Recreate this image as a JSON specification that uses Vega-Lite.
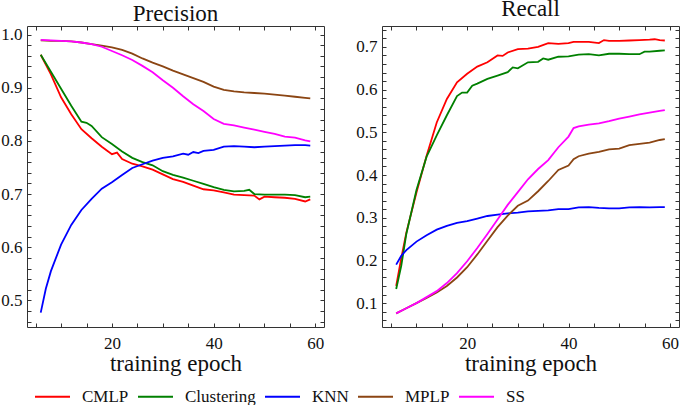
{
"$schema": "https://vega.github.io/schema/vega-lite/v6.json",
"padding": {"left": 0, "top": -3, "right": 2, "bottom": 0},
"background": "white",
"config": {
 "font": "Liberation Serif",
 "view": {"stroke": "#333", "strokeWidth": 1},
 "concat": {"spacing": 30},
 "axis": {"domain": false, "grid": false, "labelFont": "Liberation Serif", "labelFontSize": 17, "labelColor": "#111", "titleFont": "Liberation Serif", "titleFontSize": 23, "titleFontWeight": "normal", "titleColor": "#111", "labelOverlap": false, "labelFlush": false}
},
"datasets": {"d": [
{"m":"Precision","s":"CMLP","e":6,"v":0.962},{"m":"Precision","s":"CMLP","e":8,"v":0.925},{"m":"Precision","s":"CMLP","e":10,"v":0.882},{"m":"Precision","s":"CMLP","e":12,"v":0.850},{"m":"Precision","s":"CMLP","e":14,"v":0.822},{"m":"Precision","s":"CMLP","e":16,"v":0.805},{"m":"Precision","s":"CMLP","e":18,"v":0.789},{"m":"Precision","s":"CMLP","e":20,"v":0.775},{"m":"Precision","s":"CMLP","e":21,"v":0.778},{"m":"Precision","s":"CMLP","e":22,"v":0.766},{"m":"Precision","s":"CMLP","e":24,"v":0.757},{"m":"Precision","s":"CMLP","e":26,"v":0.752},{"m":"Precision","s":"CMLP","e":28,"v":0.746},{"m":"Precision","s":"CMLP","e":30,"v":0.737},{"m":"Precision","s":"CMLP","e":32,"v":0.728},{"m":"Precision","s":"CMLP","e":34,"v":0.723},{"m":"Precision","s":"CMLP","e":36,"v":0.716},{"m":"Precision","s":"CMLP","e":38,"v":0.709},{"m":"Precision","s":"CMLP","e":40,"v":0.707},{"m":"Precision","s":"CMLP","e":42,"v":0.703},{"m":"Precision","s":"CMLP","e":44,"v":0.699},{"m":"Precision","s":"CMLP","e":46,"v":0.698},{"m":"Precision","s":"CMLP","e":48,"v":0.697},{"m":"Precision","s":"CMLP","e":49,"v":0.690},{"m":"Precision","s":"CMLP","e":50,"v":0.695},{"m":"Precision","s":"CMLP","e":52,"v":0.694},{"m":"Precision","s":"CMLP","e":54,"v":0.693},{"m":"Precision","s":"CMLP","e":56,"v":0.691},{"m":"Precision","s":"CMLP","e":58,"v":0.686},{"m":"Precision","s":"CMLP","e":59,"v":0.690},
{"m":"Precision","s":"Clustering","e":6,"v":0.962},{"m":"Precision","s":"Clustering","e":8,"v":0.930},{"m":"Precision","s":"Clustering","e":10,"v":0.898},{"m":"Precision","s":"Clustering","e":12,"v":0.866},{"m":"Precision","s":"Clustering","e":14,"v":0.836},{"m":"Precision","s":"Clustering","e":15,"v":0.834},{"m":"Precision","s":"Clustering","e":16,"v":0.828},{"m":"Precision","s":"Clustering","e":18,"v":0.807},{"m":"Precision","s":"Clustering","e":20,"v":0.794},{"m":"Precision","s":"Clustering","e":22,"v":0.780},{"m":"Precision","s":"Clustering","e":24,"v":0.768},{"m":"Precision","s":"Clustering","e":26,"v":0.760},{"m":"Precision","s":"Clustering","e":28,"v":0.754},{"m":"Precision","s":"Clustering","e":30,"v":0.743},{"m":"Precision","s":"Clustering","e":32,"v":0.736},{"m":"Precision","s":"Clustering","e":34,"v":0.731},{"m":"Precision","s":"Clustering","e":36,"v":0.725},{"m":"Precision","s":"Clustering","e":38,"v":0.719},{"m":"Precision","s":"Clustering","e":40,"v":0.713},{"m":"Precision","s":"Clustering","e":42,"v":0.708},{"m":"Precision","s":"Clustering","e":44,"v":0.705},{"m":"Precision","s":"Clustering","e":46,"v":0.706},{"m":"Precision","s":"Clustering","e":47,"v":0.708},{"m":"Precision","s":"Clustering","e":48,"v":0.700},{"m":"Precision","s":"Clustering","e":50,"v":0.699},{"m":"Precision","s":"Clustering","e":52,"v":0.699},{"m":"Precision","s":"Clustering","e":54,"v":0.699},{"m":"Precision","s":"Clustering","e":56,"v":0.698},{"m":"Precision","s":"Clustering","e":58,"v":0.694},{"m":"Precision","s":"Clustering","e":59,"v":0.695},
{"m":"Precision","s":"KNN","e":6,"v":0.477},{"m":"Precision","s":"KNN","e":7,"v":0.522},{"m":"Precision","s":"KNN","e":8,"v":0.555},{"m":"Precision","s":"KNN","e":10,"v":0.605},{"m":"Precision","s":"KNN","e":12,"v":0.642},{"m":"Precision","s":"KNN","e":14,"v":0.670},{"m":"Precision","s":"KNN","e":16,"v":0.691},{"m":"Precision","s":"KNN","e":18,"v":0.710},{"m":"Precision","s":"KNN","e":20,"v":0.722},{"m":"Precision","s":"KNN","e":22,"v":0.736},{"m":"Precision","s":"KNN","e":24,"v":0.749},{"m":"Precision","s":"KNN","e":26,"v":0.756},{"m":"Precision","s":"KNN","e":28,"v":0.763},{"m":"Precision","s":"KNN","e":30,"v":0.768},{"m":"Precision","s":"KNN","e":32,"v":0.771},{"m":"Precision","s":"KNN","e":34,"v":0.776},{"m":"Precision","s":"KNN","e":35,"v":0.774},{"m":"Precision","s":"KNN","e":36,"v":0.779},{"m":"Precision","s":"KNN","e":37,"v":0.777},{"m":"Precision","s":"KNN","e":38,"v":0.781},{"m":"Precision","s":"KNN","e":40,"v":0.783},{"m":"Precision","s":"KNN","e":42,"v":0.789},{"m":"Precision","s":"KNN","e":44,"v":0.790},{"m":"Precision","s":"KNN","e":46,"v":0.789},{"m":"Precision","s":"KNN","e":48,"v":0.788},{"m":"Precision","s":"KNN","e":50,"v":0.789},{"m":"Precision","s":"KNN","e":52,"v":0.790},{"m":"Precision","s":"KNN","e":54,"v":0.791},{"m":"Precision","s":"KNN","e":56,"v":0.792},{"m":"Precision","s":"KNN","e":58,"v":0.792},{"m":"Precision","s":"KNN","e":59,"v":0.791},
{"m":"Precision","s":"MPLP","e":6,"v":0.989},{"m":"Precision","s":"MPLP","e":8,"v":0.988},{"m":"Precision","s":"MPLP","e":10,"v":0.988},{"m":"Precision","s":"MPLP","e":12,"v":0.987},{"m":"Precision","s":"MPLP","e":14,"v":0.985},{"m":"Precision","s":"MPLP","e":16,"v":0.982},{"m":"Precision","s":"MPLP","e":18,"v":0.979},{"m":"Precision","s":"MPLP","e":20,"v":0.976},{"m":"Precision","s":"MPLP","e":22,"v":0.971},{"m":"Precision","s":"MPLP","e":24,"v":0.964},{"m":"Precision","s":"MPLP","e":26,"v":0.955},{"m":"Precision","s":"MPLP","e":28,"v":0.947},{"m":"Precision","s":"MPLP","e":30,"v":0.940},{"m":"Precision","s":"MPLP","e":32,"v":0.932},{"m":"Precision","s":"MPLP","e":34,"v":0.925},{"m":"Precision","s":"MPLP","e":36,"v":0.918},{"m":"Precision","s":"MPLP","e":38,"v":0.911},{"m":"Precision","s":"MPLP","e":40,"v":0.902},{"m":"Precision","s":"MPLP","e":42,"v":0.896},{"m":"Precision","s":"MPLP","e":44,"v":0.893},{"m":"Precision","s":"MPLP","e":46,"v":0.891},{"m":"Precision","s":"MPLP","e":48,"v":0.890},{"m":"Precision","s":"MPLP","e":50,"v":0.889},{"m":"Precision","s":"MPLP","e":52,"v":0.887},{"m":"Precision","s":"MPLP","e":54,"v":0.885},{"m":"Precision","s":"MPLP","e":56,"v":0.883},{"m":"Precision","s":"MPLP","e":58,"v":0.881},{"m":"Precision","s":"MPLP","e":59,"v":0.880},
{"m":"Precision","s":"SS","e":6,"v":0.990},{"m":"Precision","s":"SS","e":8,"v":0.989},{"m":"Precision","s":"SS","e":10,"v":0.988},{"m":"Precision","s":"SS","e":12,"v":0.987},{"m":"Precision","s":"SS","e":14,"v":0.985},{"m":"Precision","s":"SS","e":16,"v":0.982},{"m":"Precision","s":"SS","e":18,"v":0.977},{"m":"Precision","s":"SS","e":20,"v":0.969},{"m":"Precision","s":"SS","e":22,"v":0.961},{"m":"Precision","s":"SS","e":24,"v":0.952},{"m":"Precision","s":"SS","e":26,"v":0.941},{"m":"Precision","s":"SS","e":28,"v":0.929},{"m":"Precision","s":"SS","e":30,"v":0.914},{"m":"Precision","s":"SS","e":32,"v":0.900},{"m":"Precision","s":"SS","e":34,"v":0.884},{"m":"Precision","s":"SS","e":36,"v":0.869},{"m":"Precision","s":"SS","e":38,"v":0.856},{"m":"Precision","s":"SS","e":40,"v":0.841},{"m":"Precision","s":"SS","e":42,"v":0.832},{"m":"Precision","s":"SS","e":44,"v":0.829},{"m":"Precision","s":"SS","e":46,"v":0.825},{"m":"Precision","s":"SS","e":48,"v":0.821},{"m":"Precision","s":"SS","e":50,"v":0.817},{"m":"Precision","s":"SS","e":52,"v":0.813},{"m":"Precision","s":"SS","e":54,"v":0.808},{"m":"Precision","s":"SS","e":56,"v":0.806},{"m":"Precision","s":"SS","e":58,"v":0.801},{"m":"Precision","s":"SS","e":59,"v":0.799},
{"m":"Recall","s":"CMLP","e":6,"v":0.140},{"m":"Recall","s":"CMLP","e":7,"v":0.205},{"m":"Recall","s":"CMLP","e":8,"v":0.265},{"m":"Recall","s":"CMLP","e":10,"v":0.359},{"m":"Recall","s":"CMLP","e":12,"v":0.445},{"m":"Recall","s":"CMLP","e":14,"v":0.523},{"m":"Recall","s":"CMLP","e":16,"v":0.578},{"m":"Recall","s":"CMLP","e":18,"v":0.617},{"m":"Recall","s":"CMLP","e":20,"v":0.637},{"m":"Recall","s":"CMLP","e":22,"v":0.654},{"m":"Recall","s":"CMLP","e":24,"v":0.664},{"m":"Recall","s":"CMLP","e":26,"v":0.680},{"m":"Recall","s":"CMLP","e":27,"v":0.679},{"m":"Recall","s":"CMLP","e":28,"v":0.687},{"m":"Recall","s":"CMLP","e":30,"v":0.695},{"m":"Recall","s":"CMLP","e":32,"v":0.696},{"m":"Recall","s":"CMLP","e":34,"v":0.700},{"m":"Recall","s":"CMLP","e":36,"v":0.709},{"m":"Recall","s":"CMLP","e":38,"v":0.707},{"m":"Recall","s":"CMLP","e":40,"v":0.709},{"m":"Recall","s":"CMLP","e":41,"v":0.712},{"m":"Recall","s":"CMLP","e":44,"v":0.712},{"m":"Recall","s":"CMLP","e":46,"v":0.709},{"m":"Recall","s":"CMLP","e":47,"v":0.716},{"m":"Recall","s":"CMLP","e":48,"v":0.714},{"m":"Recall","s":"CMLP","e":50,"v":0.714},{"m":"Recall","s":"CMLP","e":52,"v":0.715},{"m":"Recall","s":"CMLP","e":54,"v":0.716},{"m":"Recall","s":"CMLP","e":56,"v":0.717},{"m":"Recall","s":"CMLP","e":57,"v":0.718},{"m":"Recall","s":"CMLP","e":58,"v":0.716},{"m":"Recall","s":"CMLP","e":59,"v":0.715},
{"m":"Recall","s":"Clustering","e":6,"v":0.133},{"m":"Recall","s":"Clustering","e":7,"v":0.187},{"m":"Recall","s":"Clustering","e":8,"v":0.262},{"m":"Recall","s":"Clustering","e":10,"v":0.365},{"m":"Recall","s":"Clustering","e":12,"v":0.443},{"m":"Recall","s":"Clustering","e":14,"v":0.493},{"m":"Recall","s":"Clustering","e":16,"v":0.540},{"m":"Recall","s":"Clustering","e":18,"v":0.585},{"m":"Recall","s":"Clustering","e":19,"v":0.593},{"m":"Recall","s":"Clustering","e":20,"v":0.593},{"m":"Recall","s":"Clustering","e":21,"v":0.609},{"m":"Recall","s":"Clustering","e":22,"v":0.614},{"m":"Recall","s":"Clustering","e":24,"v":0.625},{"m":"Recall","s":"Clustering","e":26,"v":0.633},{"m":"Recall","s":"Clustering","e":28,"v":0.641},{"m":"Recall","s":"Clustering","e":29,"v":0.652},{"m":"Recall","s":"Clustering","e":30,"v":0.650},{"m":"Recall","s":"Clustering","e":32,"v":0.664},{"m":"Recall","s":"Clustering","e":34,"v":0.665},{"m":"Recall","s":"Clustering","e":35,"v":0.673},{"m":"Recall","s":"Clustering","e":36,"v":0.670},{"m":"Recall","s":"Clustering","e":38,"v":0.677},{"m":"Recall","s":"Clustering","e":40,"v":0.678},{"m":"Recall","s":"Clustering","e":42,"v":0.682},{"m":"Recall","s":"Clustering","e":44,"v":0.683},{"m":"Recall","s":"Clustering","e":46,"v":0.680},{"m":"Recall","s":"Clustering","e":48,"v":0.684},{"m":"Recall","s":"Clustering","e":50,"v":0.684},{"m":"Recall","s":"Clustering","e":52,"v":0.683},{"m":"Recall","s":"Clustering","e":54,"v":0.683},{"m":"Recall","s":"Clustering","e":55,"v":0.689},{"m":"Recall","s":"Clustering","e":56,"v":0.689},{"m":"Recall","s":"Clustering","e":58,"v":0.691},{"m":"Recall","s":"Clustering","e":59,"v":0.692},
{"m":"Recall","s":"KNN","e":6,"v":0.190},{"m":"Recall","s":"KNN","e":7,"v":0.211},{"m":"Recall","s":"KNN","e":8,"v":0.224},{"m":"Recall","s":"KNN","e":10,"v":0.244},{"m":"Recall","s":"KNN","e":12,"v":0.259},{"m":"Recall","s":"KNN","e":14,"v":0.272},{"m":"Recall","s":"KNN","e":16,"v":0.281},{"m":"Recall","s":"KNN","e":18,"v":0.288},{"m":"Recall","s":"KNN","e":20,"v":0.292},{"m":"Recall","s":"KNN","e":22,"v":0.298},{"m":"Recall","s":"KNN","e":24,"v":0.304},{"m":"Recall","s":"KNN","e":26,"v":0.307},{"m":"Recall","s":"KNN","e":28,"v":0.310},{"m":"Recall","s":"KNN","e":30,"v":0.312},{"m":"Recall","s":"KNN","e":32,"v":0.315},{"m":"Recall","s":"KNN","e":34,"v":0.316},{"m":"Recall","s":"KNN","e":36,"v":0.317},{"m":"Recall","s":"KNN","e":38,"v":0.320},{"m":"Recall","s":"KNN","e":40,"v":0.320},{"m":"Recall","s":"KNN","e":42,"v":0.324},{"m":"Recall","s":"KNN","e":44,"v":0.325},{"m":"Recall","s":"KNN","e":46,"v":0.323},{"m":"Recall","s":"KNN","e":48,"v":0.322},{"m":"Recall","s":"KNN","e":50,"v":0.322},{"m":"Recall","s":"KNN","e":52,"v":0.324},{"m":"Recall","s":"KNN","e":54,"v":0.325},{"m":"Recall","s":"KNN","e":56,"v":0.324},{"m":"Recall","s":"KNN","e":58,"v":0.325},{"m":"Recall","s":"KNN","e":59,"v":0.325},
{"m":"Recall","s":"MPLP","e":6,"v":0.076},{"m":"Recall","s":"MPLP","e":8,"v":0.088},{"m":"Recall","s":"MPLP","e":10,"v":0.100},{"m":"Recall","s":"MPLP","e":12,"v":0.112},{"m":"Recall","s":"MPLP","e":14,"v":0.125},{"m":"Recall","s":"MPLP","e":16,"v":0.140},{"m":"Recall","s":"MPLP","e":18,"v":0.160},{"m":"Recall","s":"MPLP","e":20,"v":0.184},{"m":"Recall","s":"MPLP","e":22,"v":0.214},{"m":"Recall","s":"MPLP","e":24,"v":0.246},{"m":"Recall","s":"MPLP","e":26,"v":0.278},{"m":"Recall","s":"MPLP","e":28,"v":0.305},{"m":"Recall","s":"MPLP","e":30,"v":0.328},{"m":"Recall","s":"MPLP","e":32,"v":0.340},{"m":"Recall","s":"MPLP","e":34,"v":0.362},{"m":"Recall","s":"MPLP","e":36,"v":0.386},{"m":"Recall","s":"MPLP","e":38,"v":0.412},{"m":"Recall","s":"MPLP","e":40,"v":0.422},{"m":"Recall","s":"MPLP","e":41,"v":0.437},{"m":"Recall","s":"MPLP","e":42,"v":0.444},{"m":"Recall","s":"MPLP","e":44,"v":0.450},{"m":"Recall","s":"MPLP","e":46,"v":0.454},{"m":"Recall","s":"MPLP","e":48,"v":0.460},{"m":"Recall","s":"MPLP","e":50,"v":0.462},{"m":"Recall","s":"MPLP","e":52,"v":0.470},{"m":"Recall","s":"MPLP","e":54,"v":0.473},{"m":"Recall","s":"MPLP","e":56,"v":0.476},{"m":"Recall","s":"MPLP","e":58,"v":0.482},{"m":"Recall","s":"MPLP","e":59,"v":0.484},
{"m":"Recall","s":"SS","e":6,"v":0.076},{"m":"Recall","s":"SS","e":8,"v":0.088},{"m":"Recall","s":"SS","e":10,"v":0.100},{"m":"Recall","s":"SS","e":12,"v":0.114},{"m":"Recall","s":"SS","e":14,"v":0.128},{"m":"Recall","s":"SS","e":16,"v":0.147},{"m":"Recall","s":"SS","e":18,"v":0.170},{"m":"Recall","s":"SS","e":20,"v":0.198},{"m":"Recall","s":"SS","e":22,"v":0.229},{"m":"Recall","s":"SS","e":24,"v":0.262},{"m":"Recall","s":"SS","e":26,"v":0.296},{"m":"Recall","s":"SS","e":28,"v":0.330},{"m":"Recall","s":"SS","e":30,"v":0.360},{"m":"Recall","s":"SS","e":32,"v":0.390},{"m":"Recall","s":"SS","e":34,"v":0.414},{"m":"Recall","s":"SS","e":36,"v":0.435},{"m":"Recall","s":"SS","e":38,"v":0.465},{"m":"Recall","s":"SS","e":40,"v":0.490},{"m":"Recall","s":"SS","e":41,"v":0.510},{"m":"Recall","s":"SS","e":42,"v":0.514},{"m":"Recall","s":"SS","e":44,"v":0.518},{"m":"Recall","s":"SS","e":46,"v":0.521},{"m":"Recall","s":"SS","e":48,"v":0.526},{"m":"Recall","s":"SS","e":50,"v":0.532},{"m":"Recall","s":"SS","e":52,"v":0.537},{"m":"Recall","s":"SS","e":54,"v":0.542},{"m":"Recall","s":"SS","e":56,"v":0.546},{"m":"Recall","s":"SS","e":58,"v":0.550},{"m":"Recall","s":"SS","e":59,"v":0.552}
]},
"data": {"name": "d"},
"hconcat": [
 {
  "title": {"text": "Precision", "fontSize": 23, "font": "Liberation Serif", "fontWeight": "normal", "color": "#111", "offset": -0.5},
  "width": 297, "height": 301,
  "transform": [{"filter": "datum.m === 'Precision'"}],
  "layer": [
   {
    "mark": {"type": "line", "strokeWidth": 1.8},
    "encoding": {
     "x": {"field": "e", "type": "quantitative", "scale": {"domain": [3.3, 61.7], "nice": false, "zero": false},
       "axis": {"orient": "bottom", "ticks": true, "tickColor": "#333", "tickOpacity": 1, "tickWidth": 1, "tickSize": -4, "domain": false, "title": "training epoch", "values": [5,10,15,20,25,30,35,40,45,50,55,60], "labelExpr": "datum.value % 20 === 0 ? datum.label : ''", "labelPadding": 12, "titlePadding": 1}},
     "y": {"field": "v", "type": "quantitative", "scale": {"domain": [0.45, 1.016], "nice": false, "zero": false},
       "axis": {"orient": "left", "ticks": true, "tickColor": "#333", "tickOpacity": 1, "tickWidth": 1, "tickSize": -4, "domain": false, "title": null, "format": ".1f", "values": [0.46,0.48,0.5,0.52,0.54,0.56,0.58,0.6,0.62,0.64,0.66,0.68,0.7,0.72,0.74,0.76,0.78,0.8,0.82,0.84,0.86,0.88,0.9,0.92,0.94,0.96,0.98,1.0], "labelExpr": "abs(datum.value*10 - round(datum.value*10)) < 0.0001 ? datum.label : ''", "labelPadding": 9}},
     "color": {"field": "s", "type": "nominal", "scale": {"domain": ["CMLP","Clustering","KNN","MPLP","SS"], "range": ["#ff0000","#008000","#0000ff","#8b4513","#ff00ff"]},
       "legend": {"orient": "none", "legendX": 7, "legendY": 352, "direction": "horizontal", "title": null, "symbolType": "stroke", "symbolSize": 1225, "symbolStrokeWidth": 1.8, "labelFont": "Liberation Serif", "labelFontSize": 17, "labelColor": "#111", "labelOffset": 11, "columnPadding": 5, "padding": 0}}
    }
   },
   {
    "mark": {"type": "line", "opacity": 0},
    "encoding": {
     "x": {"field": "e", "type": "quantitative", "scale": {"domain": [3.3, 61.7], "nice": false, "zero": false},
       "axis": {"orient": "top", "ticks": true, "tickColor": "#333", "tickOpacity": 1, "tickWidth": 1, "tickSize": -4, "domain": false, "title": null, "labels": false, "values": [5,10,15,20,25,30,35,40,45,50,55,60]}},
     "y": {"field": "v", "type": "quantitative", "scale": {"domain": [0.45, 1.016], "nice": false, "zero": false},
       "axis": {"orient": "right", "ticks": true, "tickColor": "#333", "tickOpacity": 1, "tickWidth": 1, "tickSize": -4, "domain": false, "title": null, "labels": false, "values": [0.46,0.48,0.5,0.52,0.54,0.56,0.58,0.6,0.62,0.64,0.66,0.68,0.7,0.72,0.74,0.76,0.78,0.8,0.82,0.84,0.86,0.88,0.9,0.92,0.94,0.96,0.98,1.0]}},
     "detail": {"field": "s"}
    }
   }
  ],
  "resolve": {"axis": {"x": "independent", "y": "independent"}}
 },
 {
  "title": {"text": "Recall", "fontSize": 23, "font": "Liberation Serif", "fontWeight": "normal", "color": "#111", "offset": -0.5},
  "width": 297, "height": 301,
  "transform": [{"filter": "datum.m === 'Recall'"}],
  "layer": [
   {
    "mark": {"type": "line", "strokeWidth": 1.8},
    "encoding": {
     "x": {"field": "e", "type": "quantitative", "scale": {"domain": [3.2, 61.8], "nice": false, "zero": false},
       "axis": {"orient": "bottom", "ticks": true, "tickColor": "#333", "tickOpacity": 1, "tickWidth": 1, "tickSize": -4, "domain": false, "title": "training epoch", "values": [5,10,15,20,25,30,35,40,45,50,55,60], "labelExpr": "datum.value % 20 === 0 ? datum.label : ''", "labelPadding": 12, "titlePadding": 1}},
     "y": {"field": "v", "type": "quantitative", "scale": {"domain": [0.044, 0.749], "nice": false, "zero": false},
       "axis": {"orient": "left", "ticks": true, "tickColor": "#333", "tickOpacity": 1, "tickWidth": 1, "tickSize": -4, "domain": false, "title": null, "format": ".1f", "values": [0.06,0.08,0.1,0.12,0.14,0.16,0.18,0.2,0.22,0.24,0.26,0.28,0.3,0.32,0.34,0.36,0.38,0.4,0.42,0.44,0.46,0.48,0.5,0.52,0.54,0.56,0.58,0.6,0.62,0.64,0.66,0.68,0.7,0.72,0.74], "labelExpr": "abs(datum.value*10 - round(datum.value*10)) < 0.0001 ? datum.label : ''", "labelPadding": 9}},
     "color": {"field": "s", "type": "nominal", "scale": {"domain": ["CMLP","Clustering","KNN","MPLP","SS"], "range": ["#ff0000","#008000","#0000ff","#8b4513","#ff00ff"]},
       "legend": {"orient": "none", "legendX": 7, "legendY": 352, "direction": "horizontal", "title": null, "symbolType": "stroke", "symbolSize": 1225, "symbolStrokeWidth": 1.8, "labelFont": "Liberation Serif", "labelFontSize": 17, "labelColor": "#111", "labelOffset": 11, "columnPadding": 5, "padding": 0}}
    }
   },
   {
    "mark": {"type": "line", "opacity": 0},
    "encoding": {
     "x": {"field": "e", "type": "quantitative", "scale": {"domain": [3.2, 61.8], "nice": false, "zero": false},
       "axis": {"orient": "top", "ticks": true, "tickColor": "#333", "tickOpacity": 1, "tickWidth": 1, "tickSize": -4, "domain": false, "title": null, "labels": false, "values": [5,10,15,20,25,30,35,40,45,50,55,60]}},
     "y": {"field": "v", "type": "quantitative", "scale": {"domain": [0.044, 0.749], "nice": false, "zero": false},
       "axis": {"orient": "right", "ticks": true, "tickColor": "#333", "tickOpacity": 1, "tickWidth": 1, "tickSize": -4, "domain": false, "title": null, "labels": false, "values": [0.06,0.08,0.1,0.12,0.14,0.16,0.18,0.2,0.22,0.24,0.26,0.28,0.3,0.32,0.34,0.36,0.38,0.4,0.42,0.44,0.46,0.48,0.5,0.52,0.54,0.56,0.58,0.6,0.62,0.64,0.66,0.68,0.7,0.72,0.74]}},
     "detail": {"field": "s"}
    }
   }
  ],
  "resolve": {"axis": {"x": "independent", "y": "independent"}}
 }
],
"resolve": {"scale": {"color": "shared"}}
}
